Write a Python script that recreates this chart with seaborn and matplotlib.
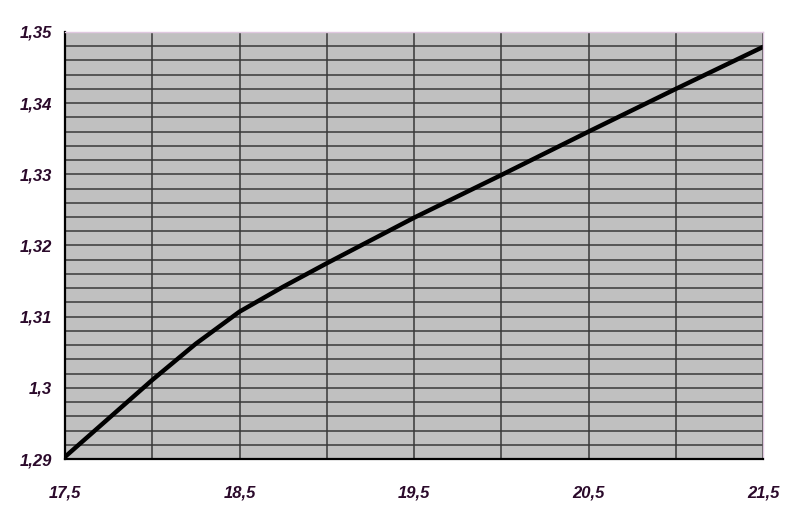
import matplotlib
matplotlib.use("Agg")
import matplotlib.pyplot as plt
from matplotlib.ticker import MultipleLocator, FuncFormatter, FixedLocator
import seaborn as sns
import pandas as pd

x_values = [17.5, 18.0, 18.25, 18.5, 18.75, 19.0, 19.5, 20.0, 20.5, 21.0, 21.5]
y_values = [1.2903, 1.3011, 1.3062, 1.3107, 1.3142, 1.3175, 1.3239, 1.3299, 1.3360, 1.3420, 1.3479]
x_ticks = [17.5, 18.5, 19.5, 20.5, 21.5]
y_ticks = [1.29, 1.30, 1.31, 1.32, 1.33, 1.34, 1.35]

df = pd.DataFrame({"x": x_values, "y": y_values})

sns.set_style("white")
plt.rcParams["font.family"] = ["Liberation Sans", "DejaVu Sans"]

fig = plt.figure(figsize=(8, 5.2), dpi=100)
ax = fig.add_axes([65/800, 1-459/520, (763-65)/800, (459-32)/520])
ax.set_facecolor("#c0c0c0")

sns.lineplot(data=df, x="x", y="y", ax=ax, color="black", linewidth=3.2, legend=False)

ax.set_xlim(17.5, 21.5)
ax.set_ylim(1.29, 1.35)
ax.xaxis.set_major_locator(FixedLocator(x_ticks))
ax.xaxis.set_minor_locator(MultipleLocator(0.5))
ax.yaxis.set_major_locator(FixedLocator(y_ticks))
ax.yaxis.set_minor_locator(MultipleLocator(0.002))

def fmt(v, pos):
    s = ("%.4f" % v).rstrip("0").rstrip(".")
    return s.replace(".", ",")

ax.xaxis.set_major_formatter(FuncFormatter(fmt))
ax.yaxis.set_major_formatter(FuncFormatter(fmt))

ax.grid(True, which="both", axis="both", color="#383838", linewidth=1.1)
ax.set_axisbelow(True)

lab_col = "#2b0a2b"
ax.tick_params(axis="x", which="major", direction="inout", length=8, width=1.3,
               color="black", pad=15, labelsize=12, labelcolor=lab_col)
ax.tick_params(axis="y", which="major", direction="inout", length=7, width=1.3,
               color="black", pad=6, labelsize=12, labelcolor=lab_col)
ax.tick_params(which="minor", length=0)
for lab in ax.get_xticklabels() + ax.get_yticklabels():
    lab.set_fontweight("bold")
    lab.set_fontstyle("italic")

ax.set_xlabel("")
ax.set_ylabel("")
for side in ["left", "bottom"]:
    ax.spines[side].set_color("black")
    ax.spines[side].set_linewidth(1.6)
for side in ["top", "right"]:
    ax.spines[side].set_color("#e0c8e0")
    ax.spines[side].set_linewidth(1.0)

fig.savefig("out.png", dpi=100, facecolor="white")
